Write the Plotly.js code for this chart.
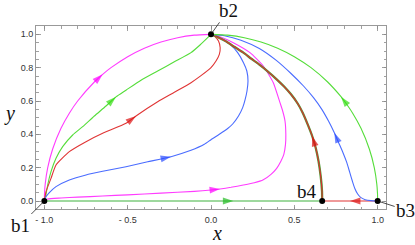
<!DOCTYPE html>
<html><head><meta charset="utf-8">
<script src="https://cdn.plot.ly/plotly-3.0.1.min.js"></script>
<style>html,body{margin:0;padding:0;background:#fff;}#chart{width:415px;height:245px;}</style>
</head><body><div id="chart"></div>
<script>
// ---- data ----
// magenta outer (b1 -> b2)
const magOutX = [-1, -0.999, -0.995, -0.98, -0.95, -0.9, -0.85, -0.8, -0.7, -0.65, -0.6, -0.5, -0.4, -0.3, -0.2, -0.1, 0];
const magOutY = [0, 0.045, 0.1, 0.199, 0.312, 0.436, 0.527, 0.6, 0.714, 0.76, 0.8, 0.866, 0.917, 0.954, 0.98, 0.995, 1];
// green inner (b1 -> b2)
const grnInX = [-1, -0.99, -0.98, -0.96, -0.93, -0.89, -0.83, -0.77, -0.70, -0.63, -0.57, -0.51, -0.42, -0.32, -0.22, -0.12, -0.066, -0.02, 0];
const grnInY = [0, 0.04, 0.096, 0.176, 0.256, 0.326, 0.396, 0.446, 0.51, 0.57, 0.625, 0.665, 0.725, 0.78, 0.835, 0.89, 0.936, 0.98, 1];
// red inner (b1 -> b2)
const redInX = [-1, -0.99, -0.96, -0.93, -0.85, -0.75, -0.65, -0.51, -0.45, -0.32, -0.22, -0.12, -0.06, 0.0, 0.03, 0.05, 0.055, 0.045, 0.025, 0];
const redInY = [0, 0.056, 0.136, 0.216, 0.296, 0.356, 0.406, 0.466, 0.51, 0.595, 0.652, 0.71, 0.752, 0.80, 0.84, 0.88, 0.92, 0.96, 0.985, 1];
// blue inner (b1 -> b2)
const bluInX = [-1, -0.99, -0.97, -0.93, -0.85, -0.75, -0.65, -0.51, -0.38, -0.24, -0.12, -0.04, 0.0, 0.05, 0.1, 0.13, 0.165, 0.19, 0.205, 0.216, 0.222, 0.215, 0.195, 0.16, 0.12, 0.07, 0.03, 0];
const bluInY = [0, 0.025, 0.05, 0.086, 0.126, 0.156, 0.178, 0.206, 0.235, 0.266, 0.304, 0.34, 0.368, 0.4, 0.435, 0.462, 0.51, 0.56, 0.61, 0.66, 0.72, 0.78, 0.83, 0.89, 0.935, 0.97, 0.99, 1];
// magenta inner (b1 -> b2, wide loop)
const magInX = [-1, -0.98, -0.9, -0.8, -0.65, -0.5, -0.3, -0.1, 0.0, 0.054, 0.12, 0.194, 0.26, 0.314, 0.36, 0.394, 0.42, 0.437, 0.447, 0.449, 0.444, 0.43, 0.414, 0.374, 0.314, 0.234, 0.134, 0.054, 0];
const magInY = [0, 0.012, 0.018, 0.023, 0.03, 0.037, 0.047, 0.058, 0.066, 0.072, 0.082, 0.096, 0.11, 0.128, 0.16, 0.196, 0.24, 0.28, 0.34, 0.40, 0.48, 0.54, 0.59, 0.71, 0.81, 0.89, 0.95, 0.986, 1];
// red / green from b4 (b4 -> b2)
const b4CurveX = [0.667, 0.666, 0.658, 0.645, 0.628, 0.607, 0.58, 0.55, 0.52, 0.48, 0.44, 0.394, 0.34, 0.294, 0.24, 0.194, 0.14, 0.094, 0.05, 0.02, 0];
const b4CurveY = [0, 0.06, 0.15, 0.24, 0.32, 0.39, 0.46, 0.53, 0.585, 0.64, 0.685, 0.73, 0.778, 0.815, 0.855, 0.89, 0.925, 0.955, 0.978, 0.993, 1];
// blue from b3 (b3 -> b2)
const bluB3X = [1, 0.96, 0.925, 0.9, 0.88, 0.863, 0.848, 0.833, 0.815, 0.792, 0.766, 0.74, 0.705, 0.665, 0.615, 0.555, 0.48, 0.39, 0.29, 0.18, 0.08, 0];
const bluB3Y = [0, 0.002, 0.008, 0.02, 0.042, 0.075, 0.12, 0.17, 0.23, 0.29, 0.35, 0.41, 0.48, 0.55, 0.62, 0.69, 0.765, 0.845, 0.915, 0.965, 0.992, 1];
// green outer (b3 -> b2)
const grnOutX = [1, 0.999, 0.995, 0.98, 0.95, 0.9, 0.85, 0.8, 0.78, 0.7, 0.6, 0.5, 0.4, 0.3, 0.2, 0.1, 0];
const grnOutY = [0, 0.045, 0.1, 0.199, 0.312, 0.436, 0.527, 0.6, 0.626, 0.714, 0.8, 0.866, 0.917, 0.954, 0.98, 0.995, 1];
// segments on the x axis
const axGreenX = [-1, 0.134, 0.667];
const axGreenY = [0, 0, 0];
const axRedX = [1, 0.834, 0.667];
const axRedY = [0, 0, 0];
// fixed points
const ptNames = ['b1', 'b2', 'b3', 'b4'];
const ptX = [-1, 0, 1, 0.667];
const ptY = [0, 1, 0, 0];
// ticks
const xTickVals = [-1, -0.5, 0, 0.5, 1];
const xTickText = ['- 1.0', '- 0.5', '0.0', '0.5', '1.0'];
const yTickVals = [0, 0.2, 0.4, 0.6, 0.8, 1.0];
const yTickText = ['0.0', '0.2', '0.4', '0.6', '0.8', '1.0'];

// ---- build ----
const curves = [
  {x: axGreenX, y: axGreenY, c: '#3fb23f', a: '#22bb22', k: 1},
  {x: axRedX, y: axRedY, c: '#e03535', a: '#dd1111', k: 1},
  {x: magOutX, y: magOutY, c: '#ff3cff', a: '#ff00ff', k: 9},
  {x: grnInX, y: grnInY, c: '#55dd3a', a: '#33dd11', k: 10},
  {x: redInX, y: redInY, c: '#e03535', a: '#dd1111', k: 8},
  {x: bluInX, y: bluInY, c: '#4a6cff', a: '#2a4cff', k: 9},
  {x: magInX, y: magInY, c: '#ff3cff', a: '#ff00ff', k: 9},
  {x: b4CurveX, y: b4CurveY, c: '#4f9a35', a: null, k: -1, w: 2.3},
  {x: b4CurveX, y: b4CurveY, c: '#d83030', a: '#dd1111', k: 5},
  {x: bluB3X, y: bluB3Y, c: '#4a6cff', a: '#2a4cff', k: 11},
  {x: grnOutX, y: grnOutY, c: '#55dd3a', a: '#33dd11', k: 8}
];
const traces = [];
curves.forEach(cv => {
  traces.push({type: 'scatter', mode: 'lines', x: cv.x, y: cv.y,
    line: {color: cv.c, width: cv.w || 1.1, shape: 'spline', smoothing: 0.5}, hoverinfo: 'skip'});
});
curves.forEach(cv => {
  if (cv.k < 1) return;
  traces.push({type: 'scatter', mode: 'markers',
    x: [cv.x[cv.k - 1], cv.x[cv.k]], y: [cv.y[cv.k - 1], cv.y[cv.k]],
    marker: {symbol: 'arrow', angleref: 'previous', size: [0, 11], color: cv.a, line: {width: 0}},
    hoverinfo: 'skip'});
});
traces.push({type: 'scatter', mode: 'markers', x: ptX, y: ptY,
  marker: {color: '#000', size: 6}, hoverinfo: 'skip', cliponaxis: false});

const serif = 'Liberation Serif, Times New Roman, serif';
const labelFont = {family: serif, size: 19, color: '#111'};
const ann = [
  {x: ptX[0], y: ptY[0], text: ptNames[0], ax: -24, ay: 24, showarrow: true, arrowhead: 0, arrowwidth: 0.8, arrowcolor: '#222', standoff: 2, font: labelFont},
  {x: ptX[1], y: ptY[1], text: ptNames[1], ax: 17, ay: -24, showarrow: true, arrowhead: 0, arrowwidth: 0.8, arrowcolor: '#222', standoff: 2, font: labelFont},
  {x: ptX[2], y: ptY[2], text: ptNames[2], ax: 28, ay: 9, showarrow: true, arrowhead: 0, arrowwidth: 0.8, arrowcolor: '#222', standoff: 2, font: labelFont},
  {x: ptX[3], y: ptY[3], text: ptNames[3], showarrow: false, xshift: -15, yshift: 10, font: labelFont},
  {xref: 'paper', yref: 'paper', x: -0.098, y: 0.52, text: '<i>y</i>', showarrow: false, font: {family: serif, size: 20, color: '#111'}},
  {xref: 'paper', yref: 'paper', x: 0.518, y: -0.13, yanchor: 'middle', text: '<i>x</i>', showarrow: false, font: {family: serif, size: 20, color: '#111'}}
];

const axisCommon = {
  showgrid: false, zeroline: false, showline: true, linecolor: '#999', linewidth: 1,
  mirror: 'allticks', ticks: 'inside', ticklen: 4.5, tickwidth: 0.8, tickcolor: '#888',
  tickmode: 'array', tickfont: {family: 'Liberation Sans, Arial, sans-serif', size: 9, color: '#333'},
  fixedrange: true
};
const layout = {
  width: 415, height: 245,
  margin: {l: 36, r: 29, t: 26, b: 36, pad: 0},
  paper_bgcolor: '#fff', plot_bgcolor: '#fff', showlegend: false,
  xaxis: Object.assign({}, axisCommon, {range: [-1.05, 1.05], tickvals: xTickVals, ticktext: xTickText, ticklabelstandoff: 2,
    minor: {tickmode: 'linear', tick0: 0, dtick: 0.1, ticks: 'inside', ticklen: 2.5, tickwidth: 0.8, tickcolor: '#888', showgrid: false}}),
  yaxis: Object.assign({}, axisCommon, {range: [-0.048, 1.05], tickvals: yTickVals, ticktext: yTickText,
    minor: {tickmode: 'linear', tick0: 0, dtick: 0.05, ticks: 'inside', ticklen: 2.5, tickwidth: 0.8, tickcolor: '#888', showgrid: false}}),
  annotations: ann
};
Plotly.newPlot('chart', traces, layout, {staticPlot: true, displayModeBar: false});
</script></body></html>
